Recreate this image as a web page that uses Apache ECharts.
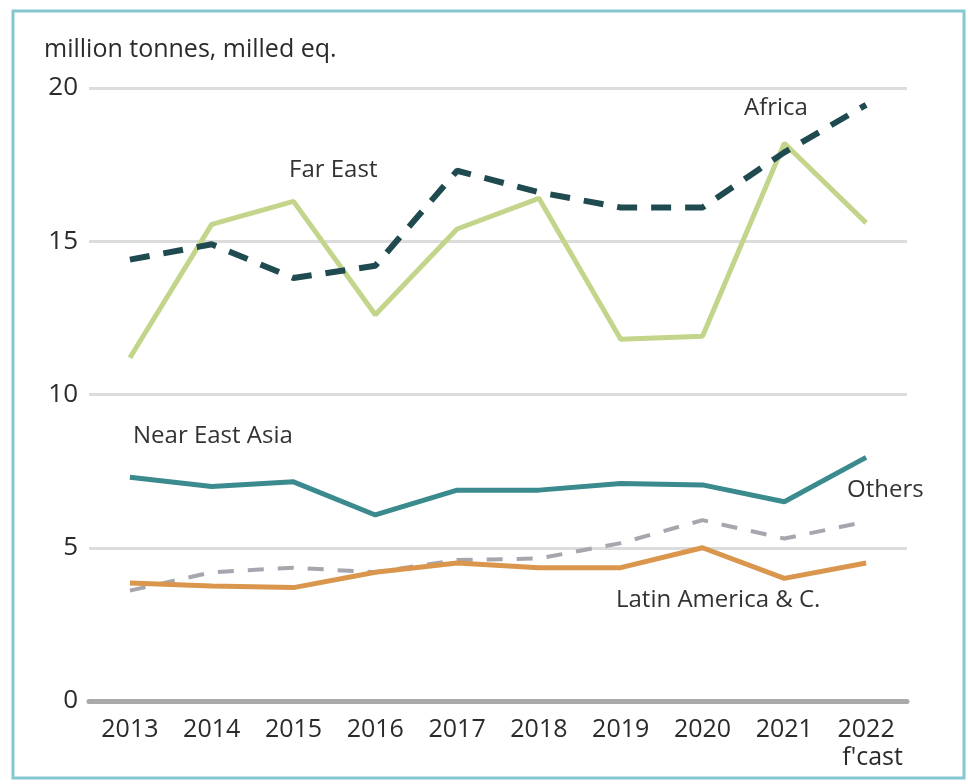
<!DOCTYPE html>
<html>
<head>
<meta charset="utf-8">
<script src="https://cdn.jsdelivr.net/npm/echarts@6/dist/echarts.min.js"></script>
<style>html,body{margin:0;padding:0;background:#fff}#c{width:968px;height:784px}</style>
</head>
<body>
<div id="c"></div>
<script>
var years = ['2013','2014','2015','2016','2017','2018','2019','2020','2021','2022'];
var farEast = [11.2, 15.55, 16.3, 12.6, 15.4, 16.4, 11.8, 11.9, 18.2, 15.6];
var africa = [14.4, 14.9, 13.8, 14.2, 17.3, 16.6, 16.1, 16.1, 17.9, 19.45];
var nearEastAsia = [7.3, 7.0, 7.15, 6.07, 6.88, 6.88, 7.1, 7.05, 6.5, 7.95];
var others = [3.6, 4.2, 4.35, 4.2, 4.6, 4.65, 5.15, 5.9, 5.3, 5.85];
var latinAmerica = [3.85, 3.75, 3.7, 4.2, 4.5, 4.35, 4.35, 5.0, 4.0, 4.5];
var yTicks = [0, 5, 10, 15, 20];

var FONT = '"Open Sans", "Noto Sans", sans-serif';
var chart = echarts.init(document.getElementById('c'));
chart.setOption({
  animation: false,
  backgroundColor: '#fff',
  grid: {left: 89, right: 61, top: 88, bottom: 83},
  xAxis: {
    type: 'category',
    data: years,
    boundaryGap: true,
    axisLine: {lineStyle: {color: '#a9a9a9', width: 5}},
    axisTick: {show: false},
    axisLabel: {
      interval: 0,
      color: '#2b2b2b', fontSize: 25, fontFamily: FONT, margin: 15, lineHeight: 28,
      formatter: function (v, i) { return i === years.length - 1 ? v + "\n  f'cast" : v; }
    }
  },
  yAxis: {
    type: 'value', min: yTicks[0], max: yTicks[yTicks.length - 1], interval: 5,
    axisLine: {show: false}, axisTick: {show: false},
    axisLabel: {color: '#2b2b2b', fontSize: 26, fontFamily: FONT, margin: 11},
    splitLine: {lineStyle: {color: '#dcdcdc', width: 3}}
  },
  series: [
    {name: 'Others', type: 'line', data: others, symbol: 'none', z: 2,
     lineStyle: {color: '#a6a6ae', width: 4, type: [16, 14]}},
    {name: 'Latin America & C.', type: 'line', data: latinAmerica, symbol: 'none', z: 3,
     lineStyle: {color: '#d9964c', width: 5}},
    {name: 'Near East Asia', type: 'line', data: nearEastAsia, symbol: 'none', z: 3,
     lineStyle: {color: '#3a8a8e', width: 5}},
    {name: 'Far East', type: 'line', data: farEast, symbol: 'none', z: 3,
     lineStyle: {color: '#c3d58a', width: 5}},
    {name: 'Africa', type: 'line', data: africa, symbol: 'none', z: 4,
     lineStyle: {color: '#1f4a50', width: 6, type: [20, 14]}}
  ],
  graphic: [
    {type: 'rect', shape: {x: 13, y: 11, width: 951, height: 767}, z: 100,
     style: {fill: null, stroke: '#86c8d0', lineWidth: 3}},
    {type: 'text', left: 44, top: 37, z: 100,
     style: {text: 'million tonnes, milled eq.', fill: '#2b2b2b', font: '25px ' + FONT}},
    {type: 'text', left: 289, top: 158, z: 100,
     style: {text: 'Far East', fill: '#333', font: '24px ' + FONT}},
    {type: 'text', left: 744, top: 96, z: 100,
     style: {text: 'Africa', fill: '#333', font: '24px ' + FONT}},
    {type: 'text', left: 133, top: 424, z: 100,
     style: {text: 'Near East Asia', fill: '#333', font: '24px ' + FONT}},
    {type: 'text', left: 847, top: 478, z: 100,
     style: {text: 'Others', fill: '#333', font: '24px ' + FONT}},
    {type: 'text', left: 616, top: 588, z: 100,
     style: {text: 'Latin America & C.', fill: '#333', font: '24px ' + FONT}}
  ]
});
</script>
</body>
</html>
